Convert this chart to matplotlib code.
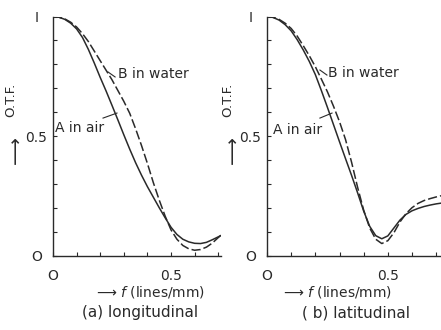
import matplotlib
matplotlib.use("Agg")
import matplotlib.pyplot as plt
from matplotlib.ticker import MultipleLocator

# spatial frequency (lines/mm) shared by all curves
freq = [0.0, 0.025, 0.05, 0.075, 0.1, 0.125, 0.15, 0.175, 0.2, 0.225, 0.25, 0.275,
        0.3, 0.325, 0.35, 0.375, 0.4, 0.425, 0.45, 0.475, 0.5, 0.525, 0.55, 0.575,
        0.6, 0.625, 0.65, 0.675, 0.7, 0.72]

# (a) longitudinal
long_air = [1.0, 0.997, 0.988, 0.972, 0.948, 0.912, 0.862, 0.805, 0.745, 0.688, 0.628,
            0.567, 0.505, 0.445, 0.388, 0.336, 0.288, 0.244, 0.2, 0.158, 0.118, 0.088,
            0.068, 0.057, 0.051, 0.05, 0.055, 0.066, 0.078, 0.088]
long_water = [1.0, 0.997, 0.99, 0.976, 0.956, 0.928, 0.895, 0.855, 0.815, 0.775, 0.735,
              0.69, 0.645, 0.595, 0.53, 0.46, 0.385, 0.305, 0.232, 0.165, 0.107, 0.068,
              0.042, 0.028, 0.022, 0.025, 0.035, 0.052, 0.075, 0.092]

# (b) latitudinal
lat_air = [1.0, 0.996, 0.985, 0.966, 0.94, 0.903, 0.86, 0.812, 0.757, 0.69, 0.62,
           0.548, 0.476, 0.405, 0.335, 0.262, 0.186, 0.122, 0.083, 0.07, 0.082, 0.115,
           0.148, 0.172, 0.187, 0.197, 0.205, 0.211, 0.216, 0.219]
lat_water = [1.0, 0.997, 0.988, 0.972, 0.95, 0.918, 0.878, 0.836, 0.79, 0.738, 0.685,
             0.625, 0.56, 0.485, 0.39, 0.285, 0.19, 0.115, 0.068, 0.05, 0.062, 0.095,
             0.14, 0.175, 0.2, 0.218, 0.23, 0.238, 0.245, 0.25]

x_ticks = [0, 0.5]
x_ticklabels = ["O", "0.5"]
y_ticks = [0, 0.5, 1]
y_ticklabels = ["O", "0.5", "I"]

INK = "#2a2a2a"
plt.rcParams["font.family"] = ["DejaVu Sans"]
plt.rcParams["mathtext.fontset"] = "dejavusans"

fig = plt.figure(figsize=(4.41, 3.3), dpi=100)

panels = [
    # axes rect, xmax, air, water, caption, caption x, xlabel x, ylabel x
    ([53 / 441, 74.5 / 330, 167.6 / 441, 239 / 330], 0.71, long_air, long_water,
     "(a) longitudinal", 140 / 441, 151 / 441, 11 / 441),
    ([267 / 441, 74.5 / 330, 174 / 441, 239 / 330], 0.72, lat_air, lat_water,
     "( b) latitudinal", 356 / 441, 338 / 441, 228 / 441),
]

leaders = [
    # B leader, B text pos, A leader, A text pos (data coords)
    (((0.233, 0.263), (0.768, 0.747)), (0.275, 0.758),
     ((0.212, 0.271), (0.575, 0.596)), (0.008, 0.533)),
    (((0.219, 0.248), (0.776, 0.755)), (0.252, 0.763),
     ((0.219, 0.269), (0.575, 0.596)), (0.025, 0.527)),
]

for (rect, xmax, air, water, caption, cap_x, xl_x, yl_x), (b_line, b_txt, a_line, a_txt) in zip(panels, leaders):
    ax = fig.add_axes(rect)
    ax.plot(freq, air, color=INK, lw=1.1)
    ax.plot(freq, water, color=INK, lw=1.1, dashes=(6, 2))
    ax.set_xlim(0, xmax)
    ax.set_ylim(0, 1)
    for side in ("top", "right"):
        ax.spines[side].set_visible(False)
    for side in ("left", "bottom"):
        ax.spines[side].set_color(INK)
        ax.spines[side].set_linewidth(1.0)
    ax.set_xticks(x_ticks, x_ticklabels)
    ax.set_yticks(y_ticks, y_ticklabels)
    ax.xaxis.set_minor_locator(MultipleLocator(0.1))
    ax.yaxis.set_minor_locator(MultipleLocator(0.1))
    ax.tick_params(which="both", direction="in", color=INK, width=0.8, length=3)
    ax.tick_params(which="major", labelsize=10, labelcolor=INK)
    ax.tick_params(axis="y", pad=12)
    ax.tick_params(axis="x", pad=10)
    for lbl in ax.get_yticklabels():
        lbl.set_horizontalalignment("center")

    # curve labels with short leader lines
    ax.plot(*b_line, color=INK, lw=0.8)
    ax.text(b_txt[0], b_txt[1], "B in water", fontsize=10, color=INK, va="center")
    ax.plot(*a_line, color=INK, lw=0.8)
    ax.text(a_txt[0], a_txt[1], "A in air", fontsize=10, color=INK, va="center")

    fig.text(xl_x, 1 - 292 / 330, "\u27f6 $f$ (lines/mm)", fontsize=10,
             color=INK, ha="center", va="center")
    fig.text(cap_x, 1 - 313 / 330, caption, fontsize=11, color=INK,
             ha="center", va="center")
    fig.text(yl_x, 1 - 100 / 330, "O.T.F.", fontsize=9.5, color=INK, rotation=90,
             ha="center", va="center")
    fig.text(yl_x + 5 / 441, 1 - 150 / 330, "\u27f6", fontsize=14, color=INK,
             rotation=90, ha="center", va="center")

fig.savefig("out.png", dpi=100, facecolor="white")
